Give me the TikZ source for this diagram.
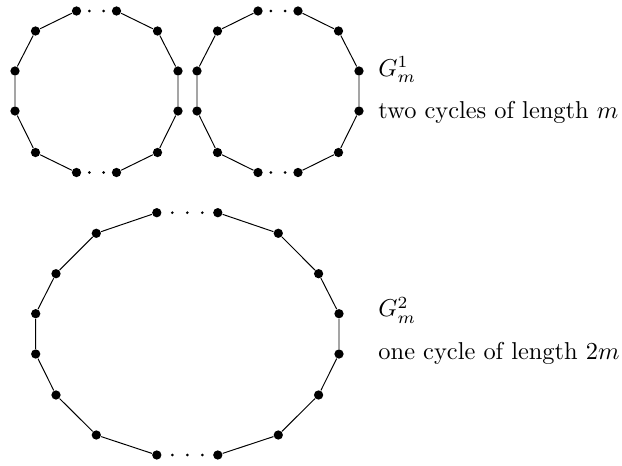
\documentclass[tikz,border=0pt]{standalone}
\usepackage{tikz}
\usetikzlibrary{positioning}
\usepackage{amsmath}
\usepackage{amssymb}

\begin{document}
\begin{tikzpicture}[x=0.0144cm, y=-0.0144cm,
    vertex/.style={circle, fill=black, inner sep=0pt, minimum size=3.8pt},
    gapdot/.style={circle, fill=black, inner sep=0pt, minimum size=1.2pt}]
    \useasboundingbox (0,0) rectangle (622,466);

    % First cycle of G^1_m
    \foreach \n/\x/\y in {1/116.5/11, 2/157.5/31, 3/178/71, 4/178/111, 5/157.5/152.5, 6/116.5/172.5,
                          7/76.5/172.5, 8/35.5/152.5, 9/15/111, 10/15/71, 11/35.5/31, 12/76.5/11}
        \node[vertex] (a\n) at (\x,\y) {};
    \draw (a1) -- (a2) -- (a3) -- (a4) -- (a5) -- (a6);
    \draw (a7) -- (a8) -- (a9) -- (a10) -- (a11) -- (a12);
    \node[gapdot] (ad1) at (89.3,11) {};
    \node[gapdot] (ad2) at (103.7,11) {};
    \node[gapdot] (ad3) at (89.3,172.5) {};
    \node[gapdot] (ad4) at (103.7,172.5) {};

    % Second cycle of G^1_m
    \foreach \n/\x/\y in {1/298/11, 2/338.5/31, 3/359/71, 4/359/111, 5/338.5/152.5, 6/298/172.5,
                          7/258/172.5, 8/217.5/152.5, 9/197/111, 10/197/71, 11/217.5/31, 12/258/11}
        \node[vertex] (b\n) at (\x,\y) {};
    \draw (b1) -- (b2) -- (b3) -- (b4) -- (b5) -- (b6);
    \draw (b7) -- (b8) -- (b9) -- (b10) -- (b11) -- (b12);
    \node[gapdot] (bd1) at (270.8,11) {};
    \node[gapdot] (bd2) at (285.2,11) {};
    \node[gapdot] (bd3) at (270.8,172.5) {};
    \node[gapdot] (bd4) at (285.2,172.5) {};

    % The cycle of G^2_m
    \foreach \n/\x/\y in {1/217.8/212.7, 2/278.3/233.3, 3/318.6/273.7, 4/339/313.7,
                          5/339/354, 6/318.6/395, 7/278.3/435, 8/217.8/455,
                          9/156.8/455, 10/96.3/435, 11/56/395, 12/35.7/354,
                          13/35.7/313.7, 14/56/273.7, 15/96.3/233.3, 16/156.8/212.7}
        \node[vertex] (c\n) at (\x,\y) {};
    \draw (c1) -- (c2) -- (c3) -- (c4) -- (c5) -- (c6) -- (c7) -- (c8);
    \draw (c9) -- (c10) -- (c11) -- (c12) -- (c13) -- (c14) -- (c15) -- (c16);
    \foreach \n/\x in {1/172.3, 2/187.3, 3/202.3} {
        \node[gapdot] (ct\n) at (\x,212.7) {};
        \node[gapdot] (cb\n) at (\x,455) {};
    }

    % Labels
    \node[anchor=base west, inner sep=0pt] (g1) at (378,76) {$G_m^1$};
    \node[anchor=base west, inner sep=0pt] (t1) at (378,119) {two cycles of length $m$};
    \node[anchor=base west, inner sep=0pt] (g2) at (378,317) {$G_m^2$};
    \node[anchor=base west, inner sep=0pt] (t2) at (378,360) {one cycle of length $2m$};
\end{tikzpicture}
\end{document}
